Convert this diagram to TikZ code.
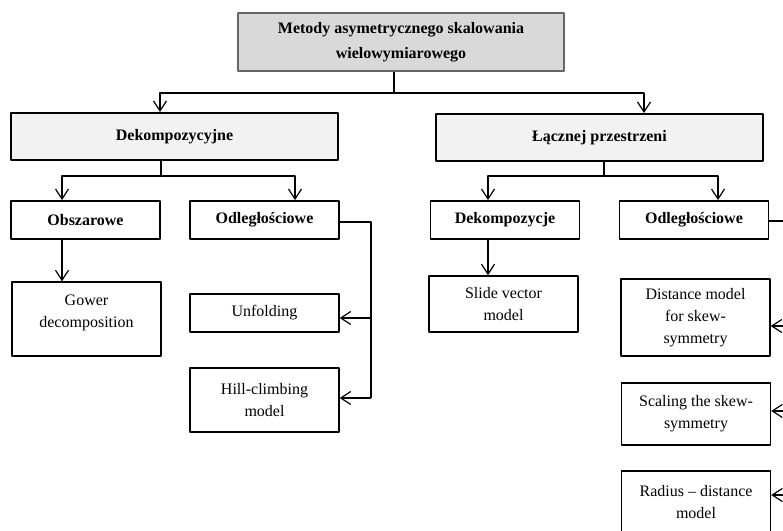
\documentclass[tikz,border=0pt]{standalone}
\usepackage{fontspec}
\setmainfont{Liberation Serif}
\usetikzlibrary{arrows.meta}
\tikzset{
  rootbox/.style={draw=black!60, line width=2.2pt, fill=black!15, minimum width=326pt, minimum height=58pt, align=center, font=\bfseries\fontsize{16}{25}\selectfont},
  catbox/.style={draw=black, line width=2pt, fill=black!5, minimum width=327pt, minimum height=47pt, font=\bfseries\fontsize{16}{22}\selectfont},
  subbox/.style={draw=black, line width=1.8pt, minimum width=149pt, minimum height=38pt, font=\bfseries\fontsize{16}{22}\selectfont},
  leaf/.style={draw=black, line width=1.4pt, minimum width=149pt, align=center, font=\fontsize{16}{22}\selectfont},
  conn/.style={line width=1.2pt},
  arr/.style={conn, -{Straight Barb[length=10pt,width=13pt]}}
}
\begin{document}
\begin{tikzpicture}[x=1pt, y=-1pt, line join=round]
  \useasboundingbox (0,0) rectangle (783,530);
  \clip (0,0) rectangle (783,530);
  % boxes
  \node[rootbox] (top) at (401,42) {Metody asymetrycznego skalowania\\wielowymiarowego};
  \node[catbox] (dek) at (174.5,136.5) {Dekompozycyjne};
  \node[catbox] (lacz) at (599.5,137.5) {Łącznej przestrzeni};
  \node[subbox] (obsz) at (85.5,220) {Obszarowe};
  \node[subbox] (odl1) at (264.5,220) {Odległościowe};
  \node[subbox] (dekc) at (505,220) {Dekompozycje};
  \node[subbox] (odl2) at (694,220) {Odległościowe};
  \node[leaf, minimum height=74pt] (gower) at (86.5,319) {\parbox[c][48pt][t]{140pt}{\centering Gower\\decomposition}};
  \node[leaf, minimum height=38pt] (unf) at (264.5,313) {Unfolding};
  \node[leaf, minimum height=64pt] (hill) at (264.5,400) {Hill-climbing\\model};
  \node[leaf, minimum height=56pt] (slide) at (503.5,304) {Slide vector\\model};
  \node[leaf, minimum height=77pt] (dist) at (695.5,317.5) {Distance model\\for skew-\\symmetry};
  \node[leaf, minimum height=62pt] (scal) at (696,414) {Scaling the skew-\\symmetry};
  \node[leaf, minimum height=62pt] (rad) at (696,502) {Radius -- distance\\model};
  % bus points
  \path
  (394,93) coordinate (b0)
  (161,176) coordinate (b1)
  (604,176) coordinate (b2)
  (371,222) coordinate (r1)
  (371,318) coordinate (r1u)
  (371,398) coordinate (r1h)
  (786,221) coordinate (r2)
  (786,495) coordinate (r2r);
  % connectors
  \draw[conn] (top.south -| b0) -- (b0);
  \draw[arr] (b0) -| ([xshift=-14.5pt]dek.north);
  \draw[arr] (b0) -| ([xshift=44.5pt]lacz.north);
  \draw[conn] (dek.south -| b1) -- (b1);
  \draw[arr] (b1) -| ([xshift=-23.5pt]obsz.north);
  \draw[arr] (b1) -| ([xshift=30.5pt]odl1.north);
  \draw[conn] (lacz.south -| b2) -- (b2);
  \draw[arr] (b2) -| ([xshift=-17pt]dekc.north);
  \draw[arr] (b2) -| ([xshift=24pt]odl2.north);
  \draw[arr] ([xshift=-23.5pt]obsz.south) -- ([xshift=-23.5pt]obsz.south |- gower.north);
  \draw[arr] ([xshift=-17pt]dekc.south) -- ([xshift=-17pt]dekc.south |- slide.north);
  \draw[conn] (odl1.east |- r1) -- (r1) -- (r1h);
  \draw[arr] (r1u) -- (unf.east |- r1u);
  \draw[arr] (r1h) -- (hill.east |- r1h);
  \draw[conn] (odl2.east |- r2) -- (r2) -- (r2r);
  \foreach \n/\yy in {dist/326,scal/411,rad/495}
    \draw[arr] (r2 |- 0,\yy) -- (\n.east |- 0,\yy);
\end{tikzpicture}
\end{document}
